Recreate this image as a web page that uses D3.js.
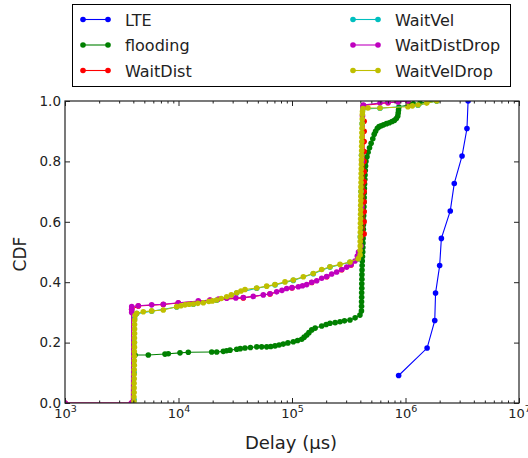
<!DOCTYPE html>
<html>
<head>
<meta charset="utf-8">
<script src="https://cdn.jsdelivr.net/npm/d3@7"></script>
<style>
  body { margin: 0; background: #fff; }
  text { font-family: "DejaVu Sans", sans-serif; fill: #222; }
</style>
</head>
<body>
<div id="chart"></div>
<script>
// values: [delay in us, cdf]
const lteDelay = [8.7e5, 1.55e6, 1.81e6, 1.84e6, 2.0e6, 2.07e6, 2.48e6, 2.69e6, 3.15e6, 3.48e6, 3.56e6];
const lteCdf = [0.091, 0.182, 0.273, 0.364, 0.455, 0.545, 0.636, 0.727, 0.818, 0.909, 1.0];

const flooding = [
  [4137, 0.159], [5420, 0.159], [7604, 0.162], [8128, 0.163], [10310, 0.166], [12200, 0.168],
  [19610, 0.169], [21710, 0.169], [24810, 0.171], [26500, 0.173], [28430, 0.175], [32570, 0.178],
  [35000, 0.180], [38540, 0.182], [43000, 0.184], [48870, 0.186], [54000, 0.186], [59840, 0.186],
  [65000, 0.187], [70860, 0.189], [77000, 0.192], [83800, 0.195], [92000, 0.199], [102700, 0.203],
  [112000, 0.207], [121800, 0.211], [128000, 0.218], [134800, 0.225], [141000, 0.233], [149200, 0.242],
  [160000, 0.248], [182700, 0.255], [200000, 0.260], [216100, 0.264], [240000, 0.266], [264800, 0.269],
  [290000, 0.272], [324300, 0.275], [360000, 0.282], [397000, 0.291],
  [409000, 0.305], [410000, 0.32], [410000, 0.335], [411000, 0.35], [411000, 0.365], [412000, 0.38],
  [412000, 0.395], [413000, 0.41], [413000, 0.425], [414000, 0.44], [415000, 0.455], [416000, 0.47],
  [418000, 0.485], [420000, 0.50], [421000, 0.515], [422000, 0.53], [423000, 0.545], [424000, 0.56],
  [425000, 0.575], [426000, 0.59], [427000, 0.605], [428000, 0.62], [429000, 0.635], [430000, 0.65],
  [431000, 0.665], [432000, 0.68], [433000, 0.695], [434000, 0.71], [436000, 0.725], [438000, 0.74],
  [440000, 0.755], [442000, 0.77], [445000, 0.785], [448000, 0.80], [458000, 0.815], [468000, 0.83],
  [482000, 0.845], [498000, 0.86], [515000, 0.875], [530000, 0.89], [545000, 0.90], [565000, 0.91],
  [585000, 0.915], [610000, 0.918], [640000, 0.921], [680000, 0.925], [720000, 0.928], [760000, 0.932],
  [800000, 0.936], [830000, 0.942], [855000, 0.95], [862000, 0.96], [868000, 0.97], [875000, 0.98],
  [1096000, 0.988], [1172000, 0.991], [1342000, 0.993], [1884000, 1.0]
];

const waitDist = [
  [1000, 0], [3850, 0], [3870, 0.31], [4425, 0.321], [7348, 0.326], [9960, 0.331], [18950, 0.340],
  [37240, 0.348], [64000, 0.361], [100000, 0.381], [149200, 0.399], [202200, 0.418], [274100, 0.441],
  [331100, 0.457], [385500, 0.49],
  [432000, 0.56], [432000, 0.60], [432000, 0.633], [432000, 0.666], [432000, 0.70], [432000, 0.733],
  [432000, 0.766], [432000, 0.80], [432000, 0.833], [432000, 0.866], [432000, 0.90], [432000, 0.933],
  [425000, 0.985], [701000, 0.994], [1050000, 1.0]
];

const waitVel = [
  [4060, 0.01], [4070, 0.10], [4080, 0.20], [4100, 0.28], [4282, 0.296], [5805, 0.304], [9640, 0.318],
  [13500, 0.327], [21710, 0.340], [32570, 0.364], [48870, 0.380], [70860, 0.391], [102700, 0.406],
  [154000, 0.428], [216100, 0.450], [324300, 0.466], [384000, 0.477], [400000, 0.55], [405000, 0.70],
  [410000, 0.82], [415000, 0.925], [422000, 0.974], [596000, 0.976], [1288000, 0.986], [1884000, 1.0]
];

const waitDistDrop = [
  [1000, 0], [3850, 0], [3870, 0.300], [3870, 0.31], [3870, 0.319], [4425, 0.322], [5805, 0.325],
  [7348, 0.327], [9960, 0.332], [14940, 0.338], [18950, 0.341], [22500, 0.344], [26590, 0.347],
  [32000, 0.348], [37240, 0.349], [45600, 0.353], [55850, 0.358], [64000, 0.362], [73300, 0.368],
  [81600, 0.373], [89800, 0.379], [100000, 0.382], [113700, 0.385], [123800, 0.388], [134800, 0.392],
  [149200, 0.400], [165100, 0.405], [182700, 0.413], [202200, 0.419], [223800, 0.427], [247600, 0.434],
  [274100, 0.442], [303400, 0.450], [331100, 0.458], [358900, 0.47], [376100, 0.487], [385500, 0.50],
  [405000, 0.52], [410000, 0.65], [414000, 0.80], [418000, 0.95], [421000, 0.98], [425000, 0.987],
  [596000, 0.993], [701000, 0.995], [859000, 0.997], [1050000, 1.0]
];

const waitVelDrop = [
  [4050, 0.005], [4050, 0.02], [4060, 0.035], [4060, 0.05], [4060, 0.065], [4070, 0.08], [4070, 0.095],
  [4070, 0.11], [4080, 0.125], [4080, 0.14], [4080, 0.155], [4080, 0.17], [4090, 0.185], [4090, 0.20],
  [4090, 0.215], [4100, 0.23], [4100, 0.245], [4100, 0.26], [4110, 0.275], [4150, 0.29],
  [4282, 0.297], [4897, 0.302], [5805, 0.305], [7348, 0.308], [9640, 0.319], [10500, 0.322],
  [11410, 0.325], [12400, 0.327], [13500, 0.328], [14800, 0.330], [16540, 0.332], [18500, 0.336],
  [19900, 0.338], [21710, 0.341], [23800, 0.346], [26590, 0.352], [29200, 0.358], [32570, 0.365],
  [35500, 0.371], [38540, 0.376], [48870, 0.381], [59840, 0.387], [70860, 0.392], [86740, 0.401],
  [102700, 0.407], [125800, 0.418], [154000, 0.429], [182700, 0.442], [216100, 0.451], [264800, 0.459],
  [324300, 0.467], [384000, 0.478],
  [398000, 0.49], [398000, 0.505], [399000, 0.52], [399000, 0.535], [400000, 0.55], [400000, 0.565],
  [401000, 0.58], [401000, 0.595], [402000, 0.61], [402000, 0.625], [403000, 0.64], [403000, 0.655],
  [404000, 0.67], [404000, 0.685], [405000, 0.70], [405000, 0.715], [406000, 0.73], [407000, 0.745],
  [407000, 0.76], [408000, 0.775], [409000, 0.79], [409000, 0.805], [410000, 0.82], [411000, 0.835],
  [411000, 0.85], [412000, 0.865], [413000, 0.88], [413000, 0.895], [414000, 0.91], [415000, 0.925],
  [416000, 0.94], [417000, 0.955], [418000, 0.965], [422000, 0.975],
  [467000, 0.977], [596000, 0.977], [1050000, 0.981], [1150000, 0.984], [1288000, 0.987],
  [1538000, 0.993], [1884000, 1.0]
];

const xMajor = [1e3, 1e4, 1e5, 1e6, 1e7];
const yTicks = [0, 0.2, 0.4, 0.6, 0.8, 1.0];

const series = [
  { name: 'LTE', color: '#0000ff', pts: d3.zip(lteDelay, lteCdf) },
  { name: 'flooding', color: '#008000', pts: flooding },
  { name: 'WaitDist', color: '#ff0000', pts: waitDist },
  { name: 'WaitVel', color: '#00bfbf', pts: waitVel },
  { name: 'WaitDistDrop', color: '#bf00bf', pts: waitDistDrop },
  { name: 'WaitVelDrop', color: '#bfbf00', pts: waitVelDrop }
];

const width = 528;
const height = 458;
const margin = { top: 101, right: 9, bottom: 55, left: 65 };
const iw = width - margin.left - margin.right;
const ih = height - margin.top - margin.bottom;
const dot = 2.8;

const svg = d3.select('#chart').append('svg')
  .attr('width', width)
  .attr('height', height);

const g = svg.append('g').attr('transform', `translate(${margin.left},${margin.top})`);

const x = d3.scaleLog().domain([1e3, 1e7]).range([0, iw]);
const y = d3.scaleLinear().domain([0, 1]).range([ih, 0]);

const xMinor = [];
xMajor.slice(0, -1).forEach((d) => {
  for (let k = 2; k < 10; k++) xMinor.push(d * k);
});

g.append('clipPath').attr('id', 'clip')
  .append('rect').attr('width', iw).attr('height', ih);

const plot = g.append('g').attr('clip-path', 'url(#clip)');
const line = d3.line().x((d) => x(d[0])).y((d) => y(d[1]));

series.forEach((s) => {
  plot.append('path')
    .datum(s.pts)
    .attr('fill', 'none')
    .attr('stroke', s.color)
    .attr('stroke-width', 1.1)
    .attr('d', line);
  plot.append('g').selectAll('circle')
    .data(s.pts)
    .enter().append('circle')
    .attr('cx', (d) => x(d[0]))
    .attr('cy', (d) => y(d[1]))
    .attr('r', dot)
    .attr('fill', s.color);
});

// axes, ticks pointing inward on all four sides
const tickStyle = (sel) => {
  sel.select('.domain').remove();
  sel.selectAll('.tick line').attr('stroke', '#222');
};

const gx = g.append('g').attr('transform', `translate(0,${ih})`)
  .call(d3.axisBottom(x).tickValues(xMajor).tickSize(-5).tickPadding(6).tickFormat(() => '10'))
  .call(tickStyle);
gx.selectAll('.tick text')
  .attr('font-size', 13)
  .attr('font-family', '"DejaVu Sans", sans-serif')
  .attr('fill', '#222')
  .each(function (d) {
    d3.select(this).append('tspan')
      .attr('dy', -6)
      .attr('font-size', 9.5)
      .text(Math.round(Math.log10(d)));
  });

g.append('g').attr('transform', `translate(0,${ih})`)
  .call(d3.axisBottom(x).tickValues(xMinor).tickSize(-2.5).tickFormat(''))
  .call(tickStyle);
g.append('g')
  .call(d3.axisTop(x).tickValues(xMajor).tickSize(-5).tickFormat(''))
  .call(tickStyle);
g.append('g')
  .call(d3.axisTop(x).tickValues(xMinor).tickSize(-2.5).tickFormat(''))
  .call(tickStyle);

g.append('g')
  .call(d3.axisLeft(y).tickValues(yTicks).tickSize(-5).tickPadding(4).tickFormat(d3.format('.1f')))
  .call(tickStyle)
  .selectAll('.tick text')
  .attr('font-size', 13.5)
  .attr('font-family', '"DejaVu Sans", sans-serif')
  .attr('fill', '#222');
g.append('g').attr('transform', `translate(${iw},0)`)
  .call(d3.axisRight(y).tickValues(yTicks).tickSize(-5).tickFormat(''))
  .call(tickStyle);

g.append('rect')
  .attr('width', iw)
  .attr('height', ih)
  .attr('fill', 'none')
  .attr('stroke', '#222')
  .attr('stroke-width', 1.2);

svg.append('text')
  .attr('transform', 'translate(25.5,254) rotate(-90)')
  .attr('text-anchor', 'middle')
  .attr('font-size', 17)
  .text('CDF');

svg.append('text')
  .attr('x', 291)
  .attr('y', 449)
  .attr('text-anchor', 'middle')
  .attr('font-size', 18)
  .text('Delay (µs)');

// legend, two columns
const legend = svg.append('g');
legend.append('rect')
  .attr('x', 72.5).attr('y', 4.5)
  .attr('width', 438).attr('height', 82)
  .attr('fill', '#fff')
  .attr('stroke', '#000')
  .attr('stroke-width', 1);

series.forEach((s, i) => {
  const col = Math.floor(i / 3);
  const row = i % 3;
  const lx = col === 0 ? 83 : 353;
  const ly = 19.5 + row * 25.5;
  const item = legend.append('g');
  item.append('line')
    .attr('x1', lx).attr('x2', lx + 25)
    .attr('y1', ly).attr('y2', ly)
    .attr('stroke', s.color).attr('stroke-width', 1.1);
  item.selectAll('circle').data([lx, lx + 25]).enter().append('circle')
    .attr('cx', (d) => d).attr('cy', ly).attr('r', dot).attr('fill', s.color);
  item.append('text')
    .attr('x', lx + 42)
    .attr('y', ly + 6)
    .attr('font-size', 16)
    .text(s.name);
});
</script>
</body>
</html>
